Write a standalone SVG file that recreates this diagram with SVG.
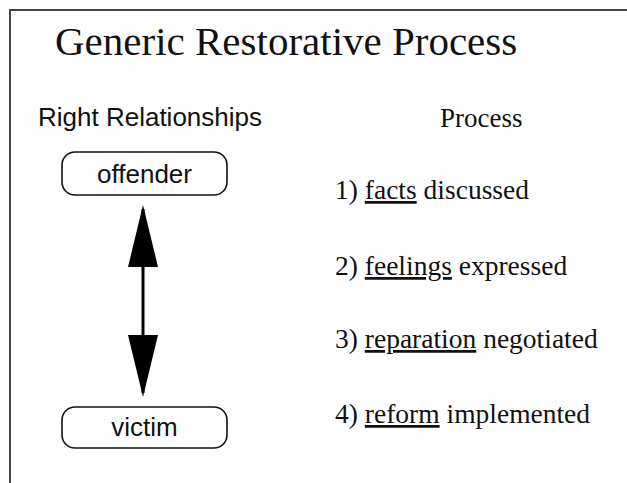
<svg xmlns="http://www.w3.org/2000/svg" width="627" height="483" viewBox="0 0 627 483">
<style>
.sans{font-family:"Liberation Sans",Arial,sans-serif;fill:#111}
.serif{font-family:"Liberation Serif","Times New Roman",serif;fill:#111}
.box{fill:#fff;stroke:#111;stroke-width:1.6}
.u{text-decoration:underline}
</style>
<defs>
<marker id="head" markerUnits="userSpaceOnUse" viewBox="0 0 62 30" refX="58" refY="15" markerWidth="62" markerHeight="30" orient="auto-start-reverse">
<path d="M0,0 L62,15 L0,30 Z" fill="#000"/>
</marker>
</defs>
<rect width="627" height="483" fill="#fff"/>
<path d="M10,483 L10,10 L627,10" fill="none" stroke="#444" stroke-width="2"/>
<text class="serif" x="55" y="55" font-size="41">Generic Restorative Process</text>
<text class="sans" x="38" y="126" font-size="26">Right Relationships</text>
<text class="serif" x="440" y="127" font-size="27">Process</text>
<g id="offender">
<rect class="box" x="62" y="152" width="165" height="43" rx="13"/>
<text class="sans" x="144.5" y="183" font-size="26" text-anchor="middle">offender</text>
</g>
<g id="victim">
<rect class="box" x="62" y="407" width="165" height="41" rx="13"/>
<text class="sans" x="144.5" y="436" font-size="26" text-anchor="middle">victim</text>
</g>
<g id="connectors">
<line x1="143" y1="209" x2="143" y2="393" stroke="#000" stroke-width="3" marker-start="url(#head)" marker-end="url(#head)"/>
</g>
<g id="steps" class="serif" font-size="27.5">
<text x="335" y="199">1) <tspan class="u">facts</tspan> discussed</text>
<text x="335" y="275">2) <tspan class="u">feelings</tspan> expressed</text>
<text x="335" y="348">3) <tspan class="u">reparation</tspan> negotiated</text>
<text x="335" y="423">4) <tspan class="u">reform</tspan> implemented</text>
</g>
</svg>
